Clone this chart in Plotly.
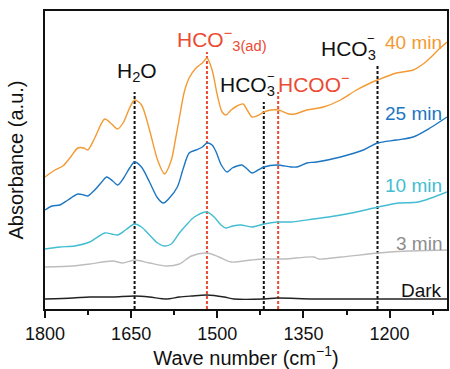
import plotly.graph_objects as go

# ---- data (wavenumber cm^-1, absorbance a.u.) ----
wn_40 = [1800, 1782.7, 1768.8, 1756.7, 1742.8, 1732.4, 1725.5, 1713.4, 1696, 1683.9, 1673.5, 1663.1, 1652.7, 1644,
         1632, 1618, 1604, 1592, 1580, 1573, 1566, 1557.5, 1549, 1537, 1526, 1518, 1509, 1500, 1491.6, 1484.6,
         1476, 1465.6, 1455, 1448, 1439.6, 1431, 1418.8, 1406.7, 1393, 1375.5, 1365, 1344, 1315, 1285.4, 1257.7,
         1233.4, 1221, 1188, 1159, 1141.6, 1129.5, 1115.6, 1100]
ab_40 = [132, 139, 143, 151, 161, 161, 159, 171, 190, 185, 180, 187, 201, 209,
         204, 179, 149, 135, 149, 169, 191, 217, 231, 241, 246, 251, 239, 214, 197, 194,
         199, 203, 205, 199, 192, 193, 197, 199, 199, 195, 195, 199, 202, 209, 219,
         226, 229, 236, 239, 245, 251, 259, 267]

wn_25 = [1800, 1787.9, 1774, 1760, 1742.8, 1732.4, 1725.5, 1713.4, 1701.2, 1692.6, 1682, 1673.5, 1663, 1652.7, 1644,
         1632, 1618, 1604, 1593.8, 1583.4, 1569.5, 1559, 1549, 1537, 1526, 1518, 1509, 1502, 1493, 1483,
         1474, 1465.6, 1457, 1448, 1439.6, 1429, 1418.8, 1396, 1372, 1361.6, 1344, 1327, 1285.4, 1245.5,
         1221, 1188, 1159, 1129.5, 1100]
ab_25 = [99, 103, 104, 109, 115, 114, 113, 119, 127, 132, 128, 124, 131, 141, 147,
         142, 127, 111, 106, 111, 122, 141, 156, 159, 162, 166, 164, 157, 144, 137,
         141, 143, 144, 140, 136, 139, 142, 144, 142, 142, 146, 147, 152, 159,
         166, 169, 172, 181, 192]

wn_10 = [1800, 1774, 1748, 1722, 1696, 1684, 1673.5, 1659.7, 1644, 1632, 1618, 1604, 1592, 1580, 1566, 1554,
         1540, 1518, 1504, 1493.6, 1485, 1473, 1459, 1439.6, 1418.8, 1396, 1372, 1332, 1306, 1266, 1219.5,
         1185, 1150, 1100]
ab_10 = [60, 62, 63, 67, 76, 75, 74, 79, 85, 82, 74, 66, 63, 65, 76, 84,
         92, 97, 91, 84, 81, 83, 84, 82, 85, 87, 87, 90, 92, 96, 102,
         106, 107, 117]

wn_3 = [1800, 1751.5, 1722, 1682, 1665, 1644, 1618, 1589, 1566, 1545, 1518, 1497, 1476, 1441, 1418.8,
        1384, 1332, 1323.5, 1283.7, 1219.5, 1167.6, 1100]
ab_3 = [42, 43, 45, 48, 46, 49, 46, 43, 45, 53, 56, 52, 47, 49, 50,
        50, 52, 50, 52, 56, 58, 59]

wn_dark = [1800, 1751.5, 1722, 1682, 1644, 1618, 1589, 1566, 1545, 1518, 1488, 1471, 1418.8, 1396, 1332,
           1219.5, 1100]
ab_dark = [10, 11, 12, 12, 13, 12, 10, 12, 13, 14, 12, 10, 10, 11, 10, 10, 10]

# marker lines: wavenumber, top, colour
mark_wn = [1644, 1518, 1419, 1394, 1221]
mark_top = [217, 257, 207, 217, 244]
mark_col = ["#111111", "#ec4a33", "#111111", "#ec4a33", "#111111"]

x_ticks = [1800, 1650, 1500, 1350, 1200]

ORANGE = "#f39a32"
BLUE = "#1c76c2"
CYAN = "#43bdd2"
GRAY = "#bdbdbd"
DARK = "#222222"
RED = "#ec4a33"

FONT = "Arial, Liberation Sans, sans-serif"

fig = go.Figure()
series = [(wn_dark, ab_dark, DARK), (wn_3, ab_3, GRAY), (wn_10, ab_10, CYAN),
          (wn_25, ab_25, BLUE), (wn_40, ab_40, ORANGE)]

for wn, top, col in zip(mark_wn, mark_top, mark_col):
    fig.add_trace(go.Scatter(x=[wn, wn], y=[0, top], mode="lines",
                             line=dict(color=col, width=2, dash="3px,2px"),
                             hoverinfo="skip", showlegend=False))

for wn, ab, col in series:
    fig.add_trace(go.Scatter(x=wn, y=ab, mode="lines", line=dict(color=col, width=1.4, shape="spline", smoothing=0.8),
                             showlegend=False))

ann = []
def add(x, y, text, color, size=21, xanchor="center"):
    ann.append(dict(x=x, y=y, xref="x", yref="y", text=text, showarrow=False,
                    font=dict(family=FONT, size=size, color=color), xanchor=xanchor, yanchor="middle"))

add(1640, 237, "H<sub>2</sub>O", "#111111")
add(1491, 270, "HCO<sup>−</sup><sub>3(ad)</sub>", RED)
add(1448, 223, "HCO<sub>3</sub>", "#111111")
add(1407, 233, "−", "#111111", size=13)
add(1331, 226, "HCOO<sup>−</sup>", RED)
add(1271.5, 259, "HCO<sub>3</sub>", "#111111")
add(1232, 271, "−", "#111111", size=13)

add(1105, 267, "40 min", ORANGE, size=19, xanchor="right")
add(1105, 196, "25 min", BLUE, size=19, xanchor="right")
add(1105, 124, "10 min", CYAN, size=19, xanchor="right")
add(1105, 66, "3 min", "#8c8c8c", size=19, xanchor="right")
add(1105, 19, "Dark", "#111111", size=19, xanchor="right")

fig.update_layout(
    width=450, height=369,
    margin=dict(l=45, r=1, t=11, b=60),
    paper_bgcolor="white", plot_bgcolor="white",
    font=dict(family=FONT, color="#111111"),
    annotations=ann,
    xaxis=dict(range=[1800, 1100], tickvals=x_ticks, ticks="outside", ticklen=7, tickwidth=1.5,
               tickcolor="#111111", showline=True, linewidth=1.8, linecolor="#111111", mirror=True,
               showgrid=False, zeroline=False, tickfont=dict(size=18, family=FONT),
               minor=dict(dtick=75, tick0=1800, ticks="outside", ticklen=4, tickwidth=1.5, tickcolor="#111111"),
               title=dict(text="Wave number (cm<sup>−1</sup>)", font=dict(size=20, family=FONT), standoff=6)),
    yaxis=dict(range=[0, 298], showticklabels=False, ticks="", showline=True, linewidth=1.8,
               linecolor="#111111", mirror=True, showgrid=False, zeroline=False,
               title=dict(text="Absorbance (a.u.)", font=dict(size=20, family=FONT), standoff=14)),
)

fig.write_html("out.html")
